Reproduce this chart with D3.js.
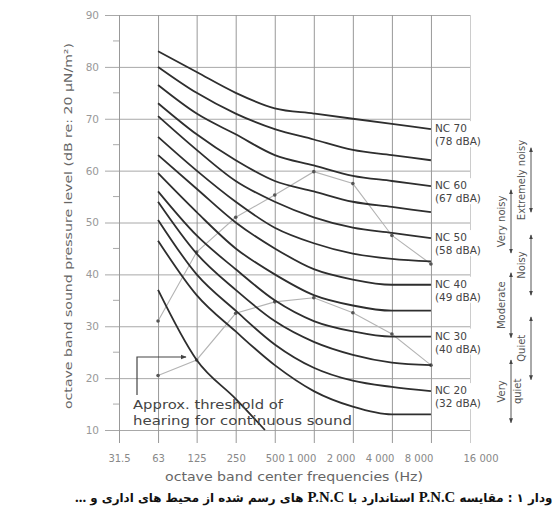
<!DOCTYPE html>
<html>
<head>
<meta charset="utf-8">
<script src="https://cdn.jsdelivr.net/npm/d3@7"></script>
<style>
  body { margin: 0; background: #fff; }
  svg { display: block; font-family: "DejaVu Sans", sans-serif; }
</style>
</head>
<body>
<svg id="chart" width="554" height="515"></svg>
<script>
// octave band centres on the axis, and the ones the curves use
const tickFreqs = [31.5, 63, 125, 250, 500, 1000, 2000, 4000, 8000, 16000];
const tickLabels = ["31.5", "63", "125", "250", "500", "1 000", "2 000", "4 000", "8 000", "16 000"];
const freqs = [63, 125, 250, 500, 1000, 2000, 4000, 8000];
const levelTicks = [10, 20, 30, 40, 50, 60, 70, 80, 90];

// NC curves, top to bottom (dB)
const ncNames = ["NC 70", "NC 65", "NC 60", "NC 55", "NC 50", "NC 45", "NC 40", "NC 35", "NC 30", "NC 25", "NC 20", "NC 15"];
const nc70 = [83, 79, 75, 72, 71, 70, 69, 68];
const nc65 = [80, 75, 71, 68, 66, 64, 63, 62];
const nc60 = [76.5, 71, 67, 63, 61, 59, 58, 57];
const nc55 = [73, 67, 62, 58, 56, 54, 53, 52];
const nc50 = [70.5, 64, 58, 54, 51, 49, 48, 47];
const nc45 = [66.5, 60, 54, 49, 46, 44, 43, 42.5];
const nc40 = [63, 56.5, 50, 45, 41, 39, 38, 38];
const nc35 = [59.5, 52, 45, 40, 36, 34, 33, 33];
const nc30 = [56, 47.5, 41, 35, 31, 29, 28, 28];
const nc25 = [54, 44, 37, 31, 27, 24.5, 23, 22.5];
const nc20 = [50.5, 40, 33, 26.5, 22, 19.5, 18.3, 17.5];
const nc15 = [46.5, 36, 29, 22.5, 17.5, 14.5, 13, 13];
const ncCurves = [nc70, nc65, nc60, nc55, nc50, nc45, nc40, nc35, nc30, nc25, nc20, nc15];

// labelled curves and their dBA
const labelCurves = ["NC 70", "NC 60", "NC 50", "NC 40", "NC 30", "NC 20"];
const labelDBA = ["(78 dBA)", "(67 dBA)", "(58 dBA)", "(49 dBA)", "(40 dBA)", "(32 dBA)"];

// threshold of hearing
const thresholdFreqs = [63, 125, 250, 420];
const thresholdLevels = [37, 23.5, 16, 10];

// measured spectra
const measuredA = [31, 44.3, 51, 55.3, 59.8, 57.5, 47.5, 42];
const measuredB = [20.5, 23.5, 32.5, 34.7, 35.5, 32.6, 28.5, 22.5];

// subjective ranges (dB) on the right
const outerNames = ["Extremely noisy", "Noisy", "Quiet"];
const outerRanges = [[52, 64.4], [36, 47.6], [19.7, 31.8]];
const innerNames = [["Very noisy"], ["Moderate"], ["Very", "quiet"]];
const innerRanges = [[44.1, 56.3], [27.8, 40.3], [11.4, 23.5]];

// caption words (reading order, right to left on the page)
const captionWords = ["ودار", "۱", ":", "مقایسه", "P.N.C", "استاندارد", "با", "P.N.C", "های", "رسم", "شده", "از", "محیط", "های", "اداری", "و", "..."];

const svg = d3.select("#chart");

const x = d3.scaleLog().base(2).domain([31.5, 16000]).range([119, 470]);
const y = d3.scaleLinear().domain([10, 90]).range([430, 15]);

// grid + y labels
const yAxis = svg.append("g").attr("transform", "translate(105,0)")
  .call(d3.axisLeft(y).tickValues(levelTicks).tickSize(-366).tickPadding(6));
yAxis.select(".domain").remove();
yAxis.selectAll("line").attr("stroke", "#a8a8a8");
yAxis.selectAll("text").attr("fill", "#999").attr("font-size", 10.5)
  .attr("font-family", "DejaVu Sans");

// minor ticks on the left
svg.append("g").selectAll("line")
  .data(d3.range(15, 90, 10))
  .join("line")
  .attr("x1", 113).attr("x2", 120)
  .attr("y1", d => y(d)).attr("y2", d => y(d))
  .attr("stroke", "#aaa");

const xAxis = svg.append("g").attr("transform", "translate(0,443)")
  .call(d3.axisBottom(x).tickValues(tickFreqs).tickSize(-428).tickPadding(12)
    .tickFormat((d, i) => tickLabels[i]));
xAxis.select(".domain").remove();
xAxis.selectAll("line").attr("stroke", (d) => d === 16000 ? "#ccc" : "#999");
xAxis.selectAll("text").attr("fill", "#888").attr("font-size", 10)
  .attr("font-family", "DejaVu Sans")
  .attr("text-anchor", d => d >= 1000 && d < 16000 ? "end" : (d === 16000 ? "start" : "middle"))
  .attr("dx", d => d >= 1000 && d < 16000 ? 2 : (d === 16000 ? -7 : 0));

const line = d3.line()
  .x(d => x(d[0]))
  .y(d => y(d[1]))
  .curve(d3.curveMonotoneX);

const straight = d3.line()
  .x(d => x(d[0]))
  .y(d => y(d[1]));

// measured spectra (light)
[measuredA, measuredB].forEach(vals => {
  const pts = freqs.map((f, i) => [f, vals[i]]);
  svg.append("path").attr("d", straight(pts))
    .attr("fill", "none").attr("stroke", "#b4b4b4").attr("stroke-width", 1.1);
  svg.append("g").selectAll("circle").data(pts).join("circle")
    .attr("cx", d => x(d[0])).attr("cy", d => y(d[1])).attr("r", 1.8)
    .attr("fill", "#555");
});

// NC curves
svg.append("g").selectAll("path")
  .data(ncCurves)
  .join("path")
  .attr("d", vals => line(freqs.map((f, i) => [f, vals[i]])))
  .attr("fill", "none")
  .attr("stroke", "#2e2e2e")
  .attr("stroke-width", 1.8);

// threshold of hearing
svg.append("path")
  .attr("d", line(thresholdFreqs.map((f, i) => [f, thresholdLevels[i]])))
  .attr("fill", "none").attr("stroke", "#2e2e2e").attr("stroke-width", 1.8);

// NC labels at the right end
const labels = svg.append("g").attr("font-size", 10.5).attr("fill", "#444");
labelCurves.forEach((name, k) => {
  const vals = ncCurves[ncNames.indexOf(name)];
  const yy = y(vals[vals.length - 1]);
  labels.append("rect").attr("x", 434).attr("y", yy - 8).attr("width", 58).attr("height", 26)
    .attr("fill", "#fff");
  labels.append("text").attr("x", 435).attr("y", yy + 3).text(name);
  labels.append("text").attr("x", 435).attr("y", yy + 16).text(labelDBA[k]);
});

// subjective ranges
const defs = svg.append("defs");
defs.append("marker").attr("id", "ah").attr("viewBox", "0 0 10 10")
  .attr("refX", 9).attr("refY", 5).attr("markerWidth", 5).attr("markerHeight", 5)
  .attr("orient", "auto-start-reverse")
  .append("path").attr("d", "M0,1L10,5L0,9Z").attr("fill", "#444");

function rangeColumn(names, ranges, ax, tx) {
  const g = svg.append("g");
  ranges.forEach((r, i) => {
    g.append("line").attr("x1", ax).attr("x2", ax)
      .attr("y1", y(r[1])).attr("y2", y(r[0]))
      .attr("stroke", "#555").attr("stroke-width", 1)
      .attr("marker-start", "url(#ah)").attr("marker-end", "url(#ah)");
    const cy = (y(r[0]) + y(r[1])) / 2;
    const lines = names[i];
    lines.forEach((t, j) => {
      const xx = lines.length > 1 ? (j === 0 ? tx : ax + 10) : tx;
      g.append("text")
        .attr("transform", `translate(${xx},${cy}) rotate(-90)`)
        .attr("text-anchor", "middle")
        .attr("font-size", 10).attr("fill", "#555")
        .text(t);
    });
  });
}
rangeColumn(outerNames.map(n => [n]), outerRanges, 531, 525);
rangeColumn(innerNames, innerRanges, 511, 505);

// threshold annotation
svg.append("path")
  .attr("d", `M137,395V357H186`)
  .attr("fill", "none").attr("stroke", "#444").attr("stroke-width", 1.2)
  .attr("marker-end", "url(#ah)");
const note = svg.append("g").attr("font-size", 12.5).attr("fill", "#444");
note.append("text").attr("x", 133).attr("y", 409)
  .attr("textLength", 150).attr("lengthAdjust", "spacingAndGlyphs").text("Approx. threshold of");
note.append("text").attr("x", 133).attr("y", 425)
  .attr("textLength", 219).attr("lengthAdjust", "spacingAndGlyphs").text("hearing for continuous sound");

// axis titles
svg.append("text")
  .attr("transform", `translate(72,226) rotate(-90)`)
  .attr("text-anchor", "middle").attr("font-size", 10.5).attr("fill", "#666")
  .attr("textLength", 366).attr("lengthAdjust", "spacingAndGlyphs")
  .text("octave band sound pressure level (dB re: 20 \u03bcN/m\u00b2)");
svg.append("text")
  .attr("x", 294).attr("y", 481)
  .attr("text-anchor", "middle").attr("font-size", 11.5).attr("fill", "#666")
  .attr("textLength", 258).attr("lengthAdjust", "spacingAndGlyphs")
  .text("octave band center frequencies (Hz)");

// caption: one text per word, placed right to left so the page's RTL order shows
const cap = svg.append("g").attr("fill", "#111").attr("font-weight", "bold");
const capWords = captionWords.slice().reverse();
function layCaption(fs) {
  cap.selectAll("*").remove();
  let cx = 75;
  capWords.forEach(w => {
    const latin = /^[A-Z.]+$/.test(w);
    const t = cap.append("text").attr("x", cx).attr("y", 502)
      .attr("font-size", latin ? fs * 1.25 : fs)
      .attr("font-family", latin ? "Liberation Serif" : "DejaVu Sans")
      .text(w);
    cx += t.node().getComputedTextLength() + fs * 0.35;
  });
  return cx - 75;
}
const capWidth = layCaption(13);
layCaption(13 * 482 / capWidth);
</script>
</body>
</html>
